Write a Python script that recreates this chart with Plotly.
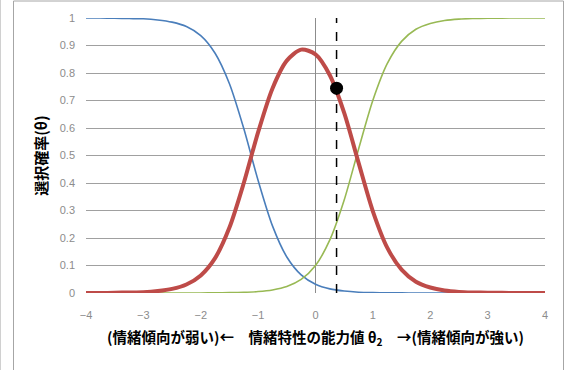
import plotly.graph_objects as go

theta = [-4, -3.75, -3.5, -3.25, -3, -2.75, -2.5, -2.25, -2, -1.75, -1.5, -1.25,
         -1, -0.75, -0.5, -0.25, 0, 0.25, 0.5, 0.75, 1, 1.25, 1.5, 1.75,
         2, 2.25, 2.5, 2.75, 3, 3.25, 3.5, 3.75, 4]

p_low = [1.000, 1.000, 0.999, 0.998, 0.997, 0.993, 0.985, 0.969, 0.936, 0.872, 0.761, 0.598,
         0.409, 0.244, 0.131, 0.066, 0.032, 0.015, 0.007, 0.003, 0.0015, 0.0007, 0.0003, 0.0001,
         0.0, 0.0, 0.0, 0.0, 0.0, 0.0, 0.0, 0.0, 0.0]

p_mid = [0.000, 0.000, 0.001, 0.002, 0.003, 0.007, 0.015, 0.031, 0.064, 0.127, 0.238, 0.400,
         0.585, 0.744, 0.845, 0.885, 0.868, 0.792, 0.655, 0.474, 0.297, 0.165, 0.085, 0.041,
         0.020, 0.009, 0.004, 0.002, 0.001, 0.0005, 0.0, 0.0, 0.0]

p_high = [0.0, 0.0, 0.0, 0.0, 0.00001, 0.00003, 0.00005, 0.0001, 0.00025, 0.0005, 0.0012, 0.0025,
          0.0052, 0.0112, 0.0236, 0.0493, 0.100, 0.193, 0.338, 0.523, 0.701, 0.834, 0.915, 0.959,
          0.980, 0.991, 0.996, 0.998, 0.999, 0.9995, 1.0, 1.0, 1.0]

theta_hat = 0.367
p_hat = 0.745

y_ticks = [0, 0.1, 0.2, 0.3, 0.4, 0.5, 0.6, 0.7, 0.8, 0.9, 1]
y_tick_text = ["0", "0.1", "0.2", "0.3", "0.4", "0.5", "0.6", "0.7", "0.8", "0.9", "1"]
x_ticks = [-4, -3, -2, -1, 0, 1, 2, 3, 4]

x_title = "(情緒傾向が弱い)←　情緒特性の能力値 θ<sub>2</sub>　→(情緒傾向が強い)"
y_title = "選択確率(θ)"

fig = go.Figure()
fig.add_trace(go.Scatter(x=theta, y=p_low, mode="lines",
                         line=dict(color="#4a7ebb", width=1.6, shape="spline", smoothing=0.8)))
fig.add_trace(go.Scatter(x=theta, y=p_high, mode="lines",
                         line=dict(color="#98b954", width=1.6, shape="spline", smoothing=0.8)))
fig.add_trace(go.Scatter(x=theta, y=p_mid, mode="lines",
                         line=dict(color="#be4b48", width=4, shape="spline", smoothing=0.8)))
fig.add_trace(go.Scatter(x=[theta_hat, theta_hat], y=[0, 1], mode="lines",
                         line=dict(color="black", width=1.5, dash="dash")))
fig.add_trace(go.Scatter(x=[theta_hat], y=[p_hat], mode="markers",
                         marker=dict(color="black", size=13)))

cjk = "Noto Sans CJK JP"
fig.update_layout(
    width=573, height=370,
    margin=dict(l=86, r=28, t=18, b=77),
    paper_bgcolor="white", plot_bgcolor="white",
    showlegend=False,
    xaxis=dict(range=[-4, 4], tickvals=x_ticks, showgrid=False,
               zeroline=True, zerolinecolor="#8c8c8c", zerolinewidth=1,
               showline=False, ticks="", ticklabelstandoff=14,
               tickfont=dict(family="Liberation Sans", size=11, color="#8c8c8c"),
               title=dict(text="<b>" + x_title + "</b>", standoff=12,
                          font=dict(family=cjk, size=14.5, color="black"))),
    yaxis=dict(range=[0, 1], tickvals=y_ticks, ticktext=y_tick_text,
               showgrid=True, gridcolor="#a0a0a0", gridwidth=1,
               zeroline=False, showline=False, ticks="", ticklabelstandoff=10,
               tickfont=dict(family="Liberation Sans", size=11, color="#8c8c8c"),
               title=dict(text="<b>" + y_title + "</b>", standoff=8,
                          font=dict(family=cjk, size=15, color="black"))),
    shapes=[
        dict(type="rect", xref="paper", yref="paper",
             x0=(13.5 - 86) / 459, x1=(563.5 - 86) / 459,
             y0=-0.3, y1=(293 - 1) / 275,
             line=dict(color="#a6a6a6", width=1), layer="below"),
        dict(type="line", xref="paper", yref="paper",
             x0=(0.5 - 86) / 459, x1=(0.5 - 86) / 459,
             y0=-0.3, y1=1.1,
             line=dict(color="#d0d0d0", width=1), layer="below"),
    ],
)

fig.write_html("out.html", config={"displayModeBar": False},
               post_script="document.body.style.margin='0px';document.body.style.overflow='hidden';")
